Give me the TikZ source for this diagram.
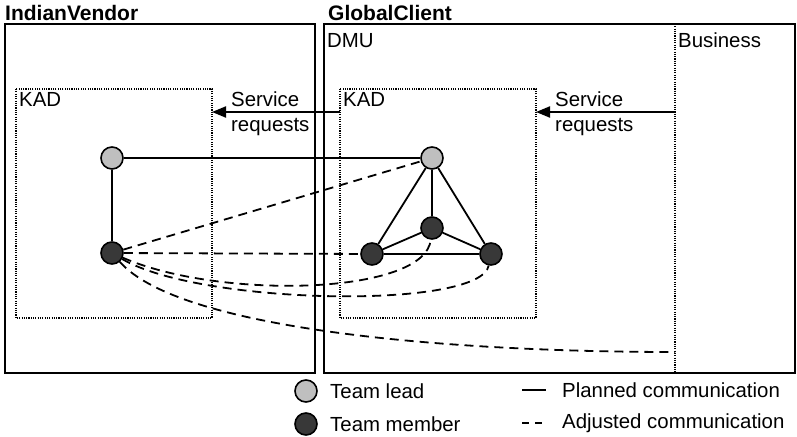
\documentclass[tikz,border=0pt]{standalone}
\usepackage{fontspec}
\setmainfont{Liberation Sans}
\usetikzlibrary{arrows.meta}

\begin{document}
\begin{tikzpicture}[x=1pt,y=-1pt,font=\fontsize{20.4}{25}\selectfont]
\useasboundingbox (0,0) rectangle (797,436);

% organisations
\begin{scope}[line width=2.2pt]
    \draw (5,24) rectangle (315,373);
    \draw (324,24) rectangle (795,373);
\end{scope}
\node[anchor=base west,inner sep=0pt,font=\fontsize{21}{25}\selectfont\bfseries] (iv) at (5,21) {IndianVendor};
\node[anchor=base west,inner sep=0pt,font=\fontsize{21}{25}\selectfont\bfseries] (gc) at (328,21) {GlobalClient};

% units
\begin{scope}[line width=1.1pt,dash pattern=on 1.1pt off 1.2pt]
    \draw (16,89) rectangle (212,318);
    \draw (340,89) rectangle (536,318);
    \draw (675,24) -- (675,373);
\end{scope}
\begin{scope}[every node/.style={anchor=north west,inner sep=3pt}]
    \node (kadL) at (16,89) {KAD};
    \node (kadR) at (340,89) {KAD};
    \node (dmu) at (324,30) {DMU};
    \node (bus) at (675,30) {Business};
\end{scope}

% service requests
\coordinate (bus-out) at (675,112);
\coordinate (kadR-in) at (536,112);
\coordinate (kadR-out) at (340,112);
\coordinate (kadL-in) at (212,112);
\coordinate (bus-end) at (675,352);
\begin{scope}[line width=2pt,-{Triangle[length=14pt,width=11pt]}]
    \draw (bus-out) -- (kadR-in);
    \draw (kadR-out) -- (kadL-in);
\end{scope}
\begin{scope}[every node/.style={anchor=west,align=left,inner sep=0pt}]
    \node (srL) at (231,114) {Service\\requests};
    \node (srR) at (555,114) {Service\\requests};
\end{scope}

% team
\begin{scope}[every node/.style={circle,line width=1.6pt,draw,minimum size=22pt,inner sep=0pt}]
    \node[fill=black!25] (leadL) at (112,158) {};
    \node[fill=black!78] (memL) at (112,253) {};
    \node[fill=black!25] (leadR) at (432,158) {};
    \node[fill=black!78] (memA) at (372,254) {};
    \node[fill=black!78] (memB) at (432,228) {};
    \node[fill=black!78] (memC) at (491,254) {};
\end{scope}

% planned communication
\begin{scope}[line width=1.8pt]
    \draw (leadL) -- (leadR);
    \draw (leadL) -- (memL);
    \draw (leadR) -- (memA);
    \draw (leadR) -- (memB);
    \draw (leadR) -- (memC);
    \draw (memA) -- (memB) -- (memC);
    \draw (memA) -- (memC);
\end{scope}

% adjusted communication
\begin{scope}[line width=1.8pt,dash pattern=on 9pt off 6pt]
    \draw (memL) -- (leadR);
    \draw (memL) -- (memA);
    \draw (memL) .. controls (220,300) and (425,295) .. (memB);
    \draw (memL) .. controls (200,305) and (480,310) .. (memC);
    \draw (memL) .. controls (180,330) and (450,352) .. (bus-end);
\end{scope}

% legend
\begin{scope}[every node/.style={circle,line width=1.6pt,draw,minimum size=22pt,inner sep=0pt}]
    \node[fill=black!25] (keyLead) at (306,391) {};
    \node[fill=black!78] (keyMem) at (306,424) {};
\end{scope}
\coordinate (keyP1) at (522,390);
\coordinate (keyP2) at (546,390);
\coordinate (keyA1) at (522,423);
\coordinate (keyA2) at (546,423);
\draw[line width=1.8pt] (keyP1) -- (keyP2);
\draw[line width=1.8pt,dash pattern=on 7pt off 6pt] (keyA1) -- (keyA2);
\begin{scope}[every node/.style={anchor=west,inner sep=0pt}]
    \node (txtLead) at (330,391) {Team lead};
    \node (txtMem) at (330,424) {Team member};
    \node (txtP) at (562,390) {Planned communication};
    \node (txtA) at (562,423) {Adjusted communication};
\end{scope}
\end{tikzpicture}
\end{document}
